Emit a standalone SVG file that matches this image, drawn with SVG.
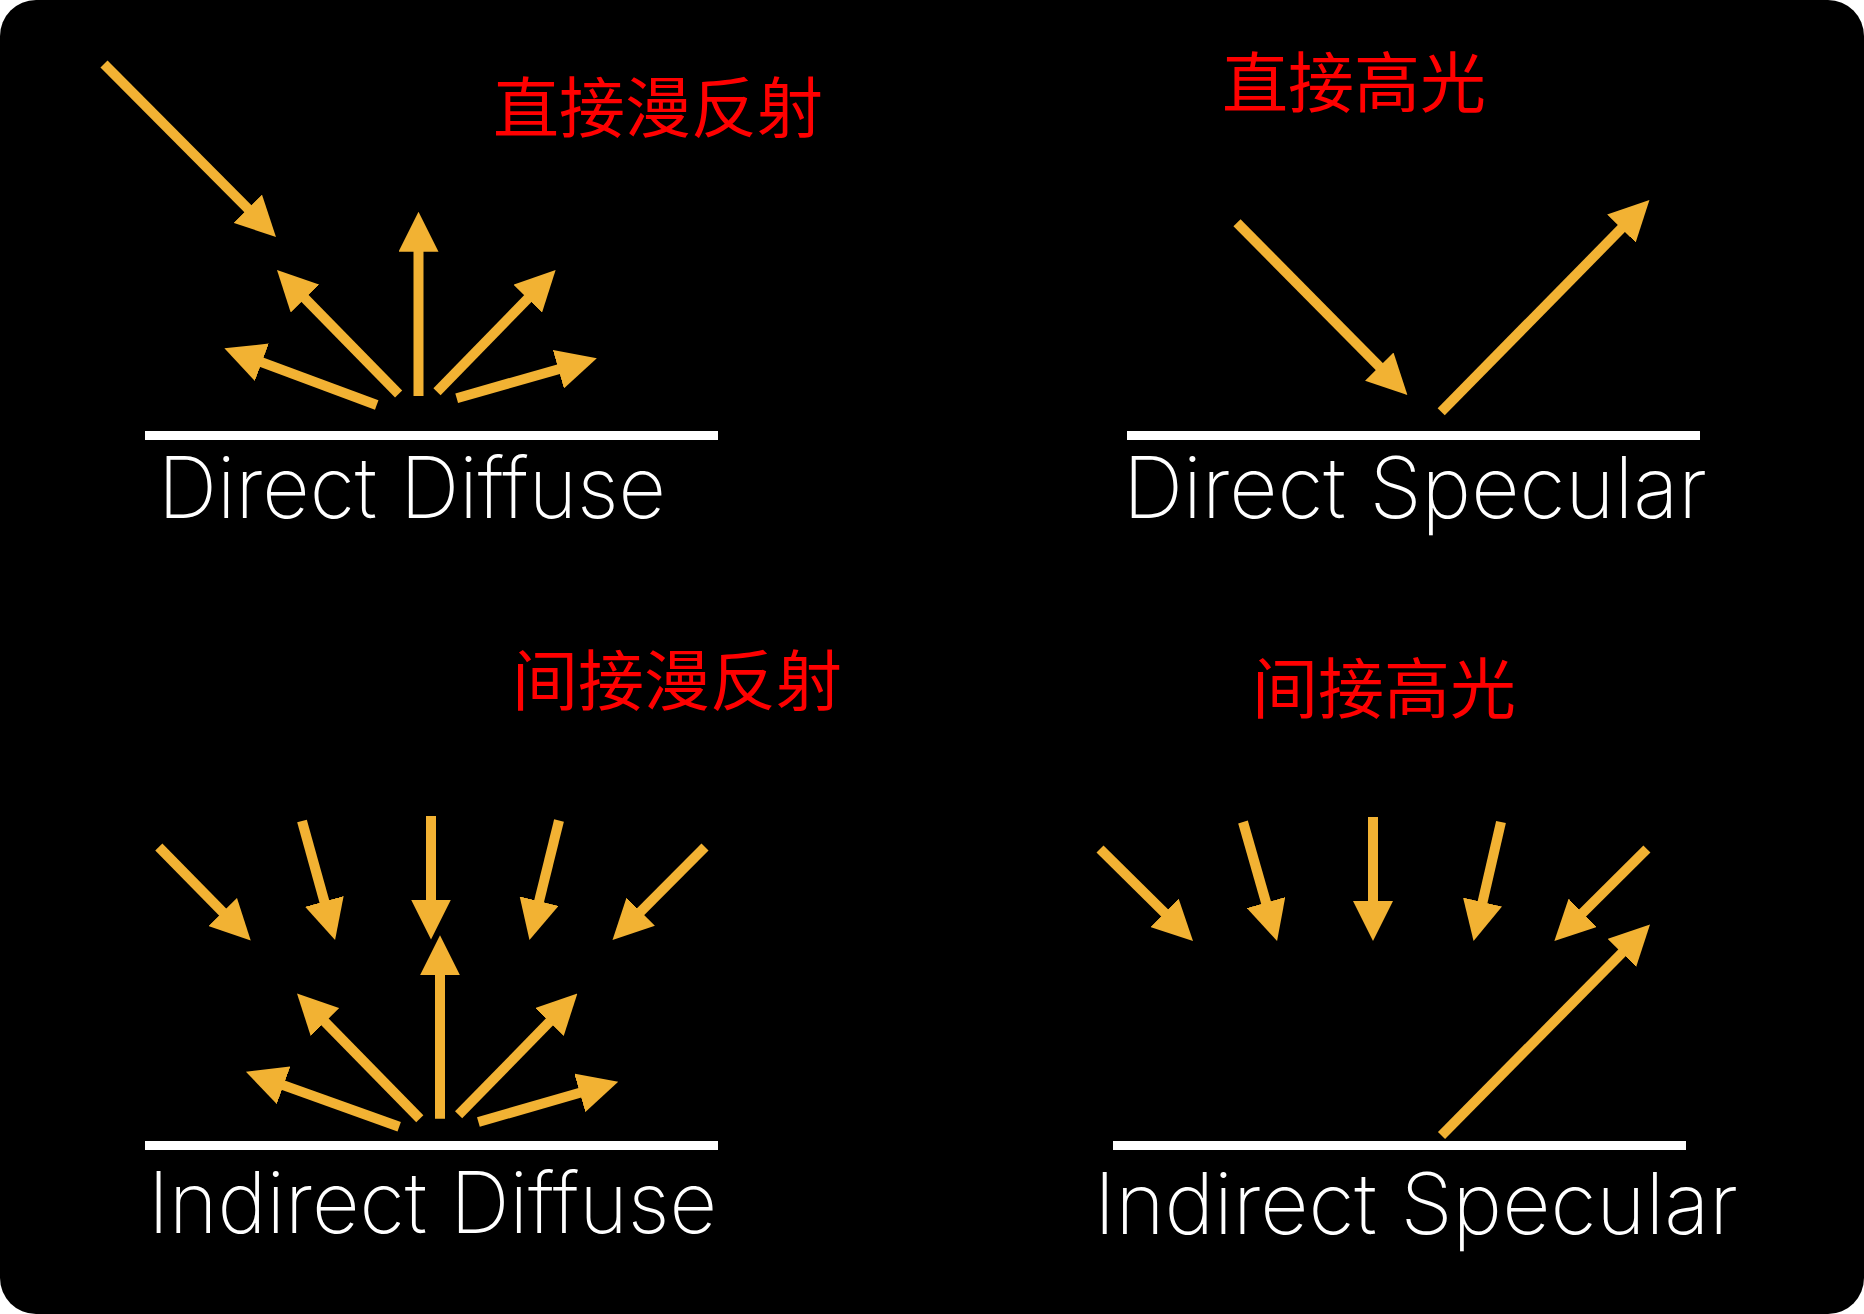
<svg xmlns="http://www.w3.org/2000/svg" width="1864" height="1314" viewBox="0 0 1864 1314">
<style>
.arr{stroke:#F2B233;stroke-width:10;fill:none;stroke-linecap:butt;marker-end:url(#head)}
.ground{fill:#FFFFFF}
.en{font-family:Inter,"Noto Sans","Liberation Sans",sans-serif;font-weight:250;font-size:85px;fill:#FFFFFF}
.cn{font-family:"Noto Sans CJK SC","Noto Sans",sans-serif;font-size:66px;fill:#FF0000;text-anchor:middle}
</style>
<defs>
<marker id="head" markerUnits="userSpaceOnUse" viewBox="0 -20 40 40" markerWidth="40" markerHeight="40" refX="2" refY="0" orient="auto">
<path d="M0,-20 L40,0 L0,20 Z" fill="#F2B233"/>
</marker>
</defs>
<rect x="0" y="0" width="1864" height="1314" fill="#FFFFFF"/>
<rect x="0" y="0" width="1864" height="1314" rx="36" ry="36" fill="#000000"/>

<g id="panel-direct-diffuse">
<rect class="ground" x="145" y="431" width="573" height="9"/>
<text class="en" x="158" y="518" textLength="508" lengthAdjust="spacingAndGlyphs">Direct Diffuse</text>
<text class="cn" x="658" y="132">直接漫反射</text>
</g>
<g id="panel-direct-specular">
<rect class="ground" x="1127" y="431" width="573" height="9"/>
<text class="en" x="1123" y="518" textLength="584" lengthAdjust="spacingAndGlyphs">Direct Specular</text>
<text class="cn" x="1354" y="107">直接高光</text>
</g>
<g id="panel-indirect-diffuse">
<rect class="ground" x="145" y="1141" width="573" height="9"/>
<text class="en" x="148" y="1233" textLength="569" lengthAdjust="spacingAndGlyphs">Indirect Diffuse</text>
<text class="cn" x="677" y="705">间接漫反射</text>
</g>
<g id="panel-indirect-specular">
<rect class="ground" x="1113" y="1141" width="573" height="9"/>
<text class="en" x="1094" y="1234" textLength="644" lengthAdjust="spacingAndGlyphs">Indirect Specular</text>
<text class="cn" x="1384" y="713">间接高光</text>
</g>

<g id="connectors">
<!-- direct diffuse -->
<line class="arr" x1="104" y1="64" x2="249.2" y2="210.1"/>
<line class="arr" x1="418.5" y1="396" x2="418.5" y2="249.7"/>
<line class="arr" x1="398.6" y1="394" x2="303.6" y2="297.1"/>
<line class="arr" x1="437" y1="391.7" x2="529.1" y2="297.2"/>
<line class="arr" x1="376.7" y1="405" x2="260" y2="361.6"/>
<line class="arr" x1="456.7" y1="398.3" x2="560.3" y2="368.7"/>
<!-- direct specular -->
<line class="arr" x1="1237" y1="222.7" x2="1380.7" y2="368"/>
<line class="arr" x1="1441.2" y1="411.7" x2="1622.8" y2="227.1"/>
<!-- indirect diffuse incoming -->
<line class="arr" x1="158.8" y1="846.9" x2="224.1" y2="913.4"/>
<line class="arr" x1="302" y1="821" x2="324.9" y2="903.4"/>
<line class="arr" x1="431" y1="816" x2="431" y2="901.5"/>
<line class="arr" x1="559" y1="820.5" x2="538.6" y2="903.1"/>
<line class="arr" x1="705" y1="847" x2="639.3" y2="913.1"/>
<!-- indirect diffuse outgoing -->
<line class="arr" x1="440" y1="1118.8" x2="440" y2="973.3"/>
<line class="arr" x1="419.8" y1="1118.8" x2="323.6" y2="1020.6"/>
<line class="arr" x1="458.6" y1="1114.8" x2="550.8" y2="1020.6"/>
<line class="arr" x1="399.2" y1="1126.8" x2="281.7" y2="1084.6"/>
<line class="arr" x1="478.4" y1="1122" x2="581.7" y2="1092.3"/>
<!-- indirect specular incoming -->
<line class="arr" x1="1100" y1="849" x2="1166" y2="914.3"/>
<line class="arr" x1="1243" y1="822" x2="1266.6" y2="904.5"/>
<line class="arr" x1="1373" y1="817" x2="1373" y2="903"/>
<line class="arr" x1="1501" y1="822" x2="1482.1" y2="904"/>
<line class="arr" x1="1646.9" y1="849" x2="1581.3" y2="914.2"/>
<!-- indirect specular outgoing -->
<line class="arr" x1="1441.5" y1="1135.5" x2="1623.3" y2="951.5"/>
</g>
</svg>
